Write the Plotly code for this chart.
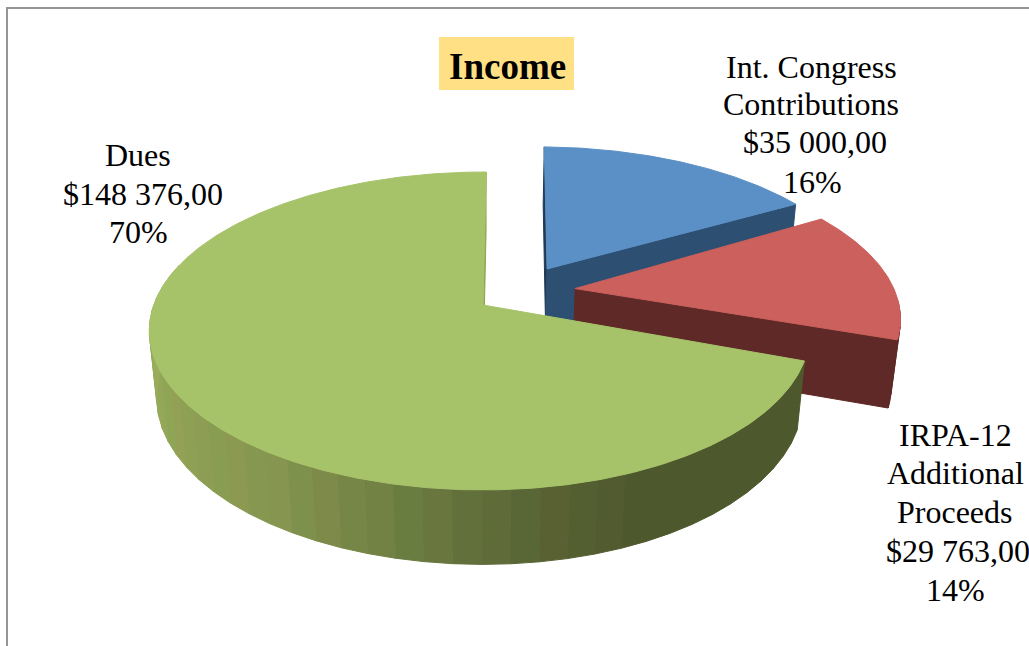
import math
import plotly.graph_objects as go

# Chart data
categories = ["Int. Congress Contributions", "IRPA-12 Additional Proceeds", "Dues"]
values = [35000.00, 29763.00, 148376.00]
amount_labels = ["$35 000,00", "$29 763,00", "$148 376,00"]
percent_labels = ["16%", "14%", "70%"]
title_text = "Income"

top_colors = ["#5B90C6", "#CB605C", "#A7C36A"]
face_colors = ["#2C4F72", "#5E2927", "#4E582D"]

# Outward shift of each slice on the disc plane, its radius, angle nudge,
# horizontal squeeze and sideways lean
explode = [(0.198, 0.242), (0.28, 0.108), (-0.003, 0.0)]
radius = [0.985, 0.98, 1.0]
nudge = [1.2, 0.0, 0.6]
squeeze = [1.0, 1.0, 0.985]
lean = [0.0, 0.0, 0.01]

# Camera set-up for the tilted disc
CX, CY = 484.0, 305.0
A, B = 331.0, 154.7
K = 0.1635
DEPTH = 68.0
DEPTH_W = 0.022

# Shading of the green rim by clockwise angle from the back of the disc
rim_stops = [(157, "#4E582D"), (174, "#5A6736"), (188, "#68793F"), (213, "#85964F"),
             (240, "#8FA355"), (265, "#98AD5C"), (285, "#9DB260")]
band_tints = [(0, 0, 0), (3, -1, 0), (-1, 1, 0), (2, 0, 1)]


def project(x, y, lower=False):
    if lower:
        w = 1 + K * y + DEPTH_W
        return CX + A * x / w, CY - (B * y - DEPTH) / w
    w = 1 + K * y
    return CX + A * x / w, CY - B * y / w


def rim_point(i, deg):
    t = math.radians(deg + nudge[i])
    dx = radius[i] * squeeze[i] * math.sin(t)
    return explode[i][0] + dx * (1 - lean[i] * dx), explode[i][1] + radius[i] * math.cos(t)


def rgb(c):
    return [int(c[j:j + 2], 16) for j in (1, 3, 5)]


def rim_color(deg, band):
    channels = rgb(rim_stops[0][1])
    if deg > rim_stops[0][0]:
        channels = rgb(rim_stops[-1][1])
        for (d0, c0), (d1, c1) in zip(rim_stops, rim_stops[1:]):
            if deg <= d1:
                f = (deg - d0) / (d1 - d0)
                channels = [p + (q - p) * f for p, q in zip(rgb(c0), rgb(c1))]
                break
        channels = [p + q for p, q in zip(channels, band_tints[band % len(band_tints)])]
    return "#%02x%02x%02x" % tuple(round(p) for p in channels)


fig = go.Figure()


def add_poly(points, color):
    xs = [p[0] for p in points] + [points[0][0]]
    ys = [p[1] for p in points] + [points[0][1]]
    fig.add_trace(go.Scatter(x=xs, y=ys, mode="lines", fill="toself", fillcolor=color,
                             line=dict(color=color, width=1), hoverinfo="skip",
                             showlegend=False))


# Slice angles, clockwise from the back of the disc
total = sum(values)
spans = []
start = 0.0
for v in values:
    spans.append((start, start + 360.0 * v / total))
    start += 360.0 * v / total


def cut_face(i, deg, color):
    ax, ay = explode[i]
    ox, oy = rim_point(i, deg)
    add_poly([project(ax, ay), project(ox, oy), project(ox, oy, True), project(ax, ay, True)], color)


def top_face(i):
    ax, ay = explode[i]
    d0, d1 = spans[i]
    n = int(d1 - d0) + 1
    pts = [project(ax, ay)]
    for j in range(n * 2 + 1):
        pts.append(project(*rim_point(i, d0 + (d1 - d0) * j / (2 * n))))
    add_poly(pts, top_colors[i])


def outer_wall(i, deg0, deg1, color_fn, bands):
    for j in range(bands):
        a0 = deg0 + (deg1 - deg0) * j / bands
        a1 = deg0 + (deg1 - deg0) * (j + 1) / bands
        steps = [a0 + (a1 - a0) * s / 3 for s in range(4)]
        upper = [project(*rim_point(i, d)) for d in steps]
        lower = [project(*rim_point(i, d), True) for d in reversed(steps)]
        add_poly(upper + lower, color_fn((a0 + a1) / 2, j))


# Blue slice: both cut faces, then the top
cut_face(0, spans[0][0], "#1F3A55")
cut_face(0, spans[0][1], face_colors[0])
top_face(0)

# Red slice: cut face and rim, then the top
cut_face(1, spans[1][1], face_colors[1])
outer_wall(1, 95, spans[1][1], lambda d, b: face_colors[1], 3)
top_face(1)

# Green slice: narrow closing face, rim in shaded bands, then the top
cut_face(2, 360.0, "#8FA64F")
outer_wall(2, spans[2][0], 285, rim_color, 40)
top_face(2)

serif = "Liberation Serif"


def label(x, y, text, size=32, bold=False):
    fig.add_annotation(x=x, y=y, text=f"<b>{text}</b>" if bold else text, showarrow=False,
                       xanchor="center", yanchor="middle",
                       font=dict(family=serif, size=size, color="#000000"))


# Title plate
fig.add_shape(type="rect", x0=439, x1=574, y0=37, y1=90, fillcolor="#FFE084",
              line=dict(width=0), layer="below")
label(507, 66, title_text, size=37, bold=True)

# Slice captions
caption_lines = [
    (811, 67, "Int. Congress"), (811, 104, "Contributions"),
    (815, 142, amount_labels[0]), (812, 182, percent_labels[0]),
    (955, 435, "IRPA-12"), (955, 473, "Additional"), (955, 512, "Proceeds"),
    (958, 551, amount_labels[1]), (955, 590, percent_labels[1]),
    (138, 155, categories[2]), (143, 194, amount_labels[2]), (138, 232, percent_labels[2]),
]
for x, y, t in caption_lines:
    label(x, y, t)

# Chart area frame: top and left edges
fig.add_shape(type="line", x0=7, x1=1029, y0=8, y1=8, line=dict(color="#969696", width=2))
fig.add_shape(type="line", x0=7, x1=7, y0=7, y1=646, line=dict(color="#969696", width=2))

fig.update_layout(width=1029, height=646, margin=dict(l=0, r=0, t=0, b=0),
                  paper_bgcolor="white", plot_bgcolor="white", showlegend=False,
                  xaxis=dict(range=[0, 1029], visible=False, fixedrange=True),
                  yaxis=dict(range=[646, 0], visible=False, fixedrange=True))
fig.write_html("out.html", config={"displayModeBar": False})
